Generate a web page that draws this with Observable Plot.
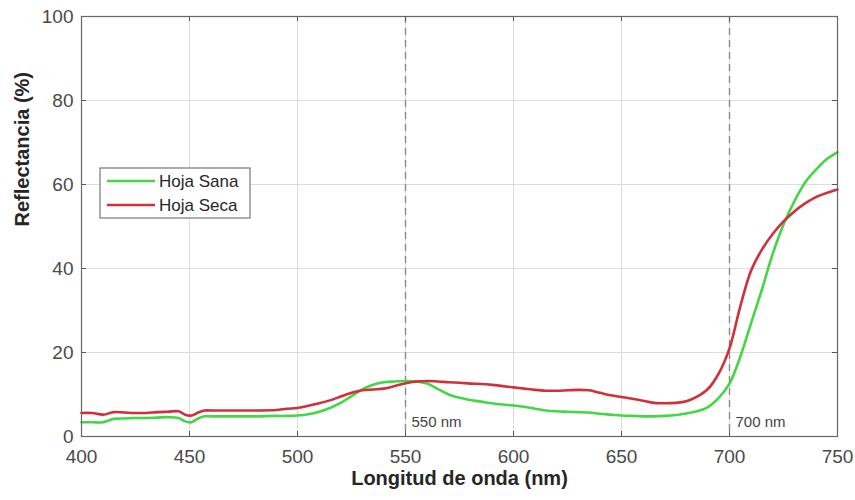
<!DOCTYPE html>
<html>
<head>
<meta charset="utf-8">
<script src="https://cdn.jsdelivr.net/npm/d3@7"></script>
<script src="https://cdn.jsdelivr.net/npm/@observablehq/plot@0.6"></script>
<style>
  html, body { margin: 0; padding: 0; background: #fff; }
  #chart { position: relative; width: 855px; height: 500px; }
</style>
</head>
<body>
<div id="chart"></div>
<script>
// Wavelengths (nm)
const wavelengths = [400,405,410,415,420,425,430,435,440,445,448,451,454,457,460,470,480,490,495,500,505,510,515,520,525,530,535,540,545,550,555,560,565,570,575,580,585,590,595,600,605,610,615,620,625,630,635,640,645,650,655,660,665,670,675,680,685,690,695,700,705,710,715,720,725,730,735,740,745,750];
// Healthy leaf reflectance (%)
const hojaSana = [3.4,3.4,3.4,4.2,4.3,4.4,4.4,4.5,4.6,4.4,3.6,3.4,4.3,4.8,4.8,4.8,4.8,4.9,4.9,5.0,5.3,5.9,6.8,8.0,9.6,11.2,12.3,12.9,13.1,13.2,13.1,12.6,11.3,10.0,9.2,8.7,8.3,7.9,7.6,7.4,7.1,6.6,6.2,6.0,5.9,5.8,5.7,5.4,5.2,5.0,4.9,4.8,4.8,4.9,5.1,5.5,6.0,7.0,9.2,12.6,19.0,27.0,35.0,43.5,50.5,56.0,60.5,63.5,66.0,67.7];
// Dry leaf reflectance (%)
const hojaSeca = [5.6,5.6,5.2,5.8,5.7,5.6,5.6,5.8,5.9,6.0,5.2,5.0,5.7,6.2,6.2,6.2,6.2,6.3,6.6,6.8,7.3,7.9,8.6,9.5,10.4,11.0,11.2,11.4,12.0,12.7,13.1,13.2,13.1,12.9,12.8,12.6,12.5,12.3,12.0,11.7,11.4,11.1,10.9,10.9,11.0,11.1,11.0,10.4,9.8,9.4,9.0,8.5,8.0,7.9,8.0,8.4,9.5,11.3,15.0,21.0,31.0,39.5,44.5,48.2,51.2,53.6,55.5,57.0,58.0,58.8];

const seriesNames = ["Hoja Sana", "Hoja Seca"];
const seriesColors = ["#45d645", "#cf303a"];
const xTicks = [400,450,500,550,600,650,700,750];
const yTicks = [0,20,40,60,80,100];
const markers = [550, 700];
const xLabel = "Longitud de onda (nm)";
const yLabel = "Reflectancia (%)";

const data = [];
wavelengths.forEach((w, i) => {
  data.push({wl: w, r: hojaSana[i], s: seriesNames[0]});
  data.push({wl: w, r: hojaSeca[i], s: seriesNames[1]});
});

const W = 855, H = 500;
const mL = 81, mR = 18, mT = 16, mB = 64;
const pw = W - mL - mR, ph = H - mT - mB;
const font = "'Liberation Sans', Arial, sans-serif";

const plot = Plot.plot({
  width: W, height: H,
  marginLeft: mL, marginRight: mR, marginTop: mT, marginBottom: mB,
  style: {fontFamily: font, background: "#fff"},
  x: {domain: [400, 750], ticks: xTicks},
  y: {domain: [0, 100], ticks: yTicks},
  color: {domain: seriesNames, range: seriesColors},
  marks: [
    Plot.gridX(xTicks, {stroke: "#dcdcdc", strokeOpacity: 1, strokeWidth: 1}),
    Plot.gridY(yTicks, {stroke: "#dcdcdc", strokeOpacity: 1, strokeWidth: 1}),
    Plot.ruleX(markers, {x: d => d, stroke: "#8a8a8a", strokeWidth: 1.4, strokeDasharray: "7,5"}),
    Plot.line(data, {x: "wl", y: "r", z: "s", stroke: "s", strokeWidth: 2.6, curve: "catmull-rom"}),
    Plot.text(markers, {x: d => d, frameAnchor: "bottom", text: d => `${d} nm`, textAnchor: "start", dx: 6, dy: -10, fontSize: 15, fill: "#444"}),
    // inward ticks (MATLAB style)
    Plot.ruleX(xTicks, {x: d => d, insetTop: ph - 5, stroke: "#555"}),
    Plot.ruleX(xTicks, {x: d => d, insetBottom: ph - 5, stroke: "#555"}),
    Plot.ruleY(yTicks, {y: d => d, insetRight: pw - 5, stroke: "#555"}),
    Plot.ruleY(yTicks, {y: d => d, insetLeft: pw - 5, stroke: "#555"}),
    Plot.frame({stroke: "#666", strokeWidth: 1.2}),
    Plot.axisX(xTicks, {tickSize: 0, tickPadding: 13, fontSize: 19, fill: "#4a4a4a", label: null}),
    Plot.axisY(yTicks, {tickSize: 0, tickPadding: 8, fontSize: 19, fill: "#4a4a4a", label: null}),
    Plot.text([xLabel], {frameAnchor: "bottom", text: d => d, dy: 48, fontSize: 20, fontWeight: "bold", fill: "#262626"}),
    Plot.text([yLabel], {frameAnchor: "left", text: d => d, rotate: -90, dx: -59, fontSize: 20, fontWeight: "bold", fill: "#262626"})
  ]
});

document.getElementById("chart").appendChild(plot);

// Legend inside plot area (MATLAB-style box)
const svg = d3.select(plot);
const lg = svg.append("g").attr("transform", "translate(100,168)");
lg.append("rect").attr("width", 150).attr("height", 50).attr("fill", "#fff").attr("stroke", "#777").attr("stroke-width", 1.2);
seriesNames.forEach((n, i) => {
  const yy = 13 + i * 24;
  lg.append("line").attr("x1", 7).attr("x2", 55).attr("y1", yy).attr("y2", yy)
    .attr("stroke", seriesColors[i]).attr("stroke-width", 2.6);
  lg.append("text").attr("x", 59).attr("y", yy).attr("dy", "0.35em")
    .attr("text-anchor", "start")
    .attr("font-family", font).attr("font-size", 17).attr("fill", "#262626").text(n);
});
</script>
</body>
</html>
